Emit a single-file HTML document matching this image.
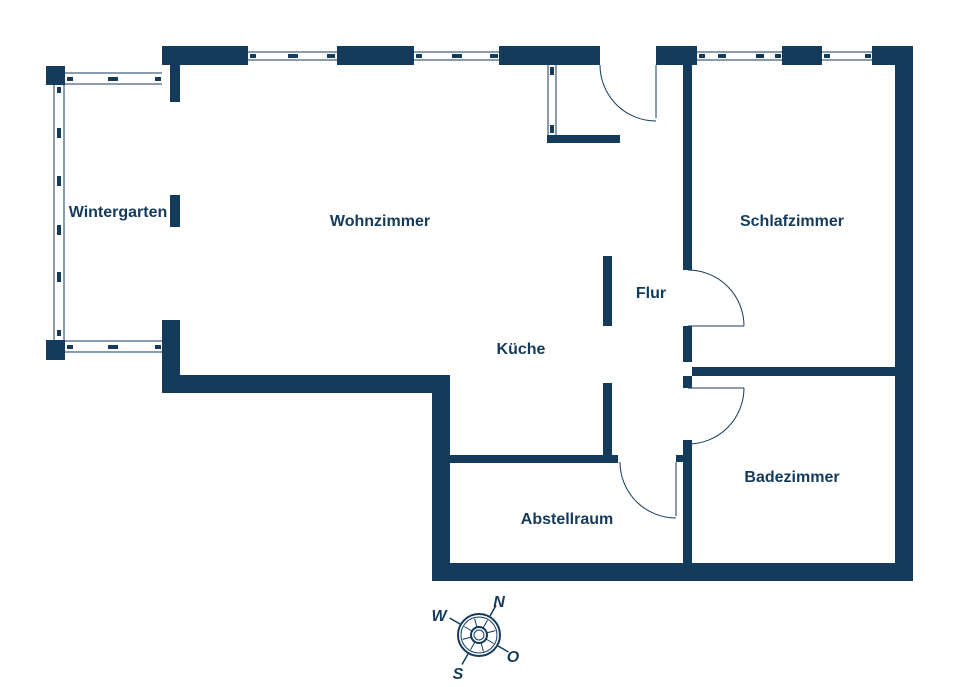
<!DOCTYPE html>
<html><head><meta charset="utf-8"><style>
body{margin:0;background:#fff}
svg{display:block}
text{font-family:"Liberation Sans",sans-serif;font-weight:bold;font-size:16px;fill:#143a5c;text-anchor:middle}
</style></head><body>
<svg width="960" height="687" viewBox="0 0 960 687" xmlns="http://www.w3.org/2000/svg">
<g fill="#143a5c">
<rect x="162" y="46" width="86" height="19"/>
<rect x="170" y="46" width="10" height="56"/>
<rect x="337" y="46" width="77" height="19"/>
<rect x="499" y="46" width="101" height="19"/>
<rect x="656" y="46" width="41" height="19"/>
<rect x="782" y="46" width="40" height="19"/>
<rect x="872" y="46" width="41" height="19"/>
<rect x="895" y="46" width="18" height="535"/>
<rect x="432" y="563" width="481" height="18"/>
<rect x="432" y="375" width="18" height="206"/>
<rect x="162" y="375" width="288" height="18"/>
<rect x="162" y="320" width="18" height="73"/>
<rect x="170" y="320" width="10" height="60"/>
<rect x="170" y="195" width="10" height="32"/>
<rect x="46" y="66" width="19" height="19"/>
<rect x="46" y="340" width="19" height="20"/>
<rect x="683" y="65" width="9" height="205"/>
<rect x="683" y="326" width="9" height="36"/>
<rect x="683" y="376" width="9" height="12"/>
<rect x="692" y="367" width="203" height="9"/>
<rect x="683" y="440" width="9" height="123"/>
<rect x="676" y="455" width="16" height="7"/>
<rect x="450" y="455" width="168" height="8"/>
<rect x="603" y="383" width="9" height="72"/>
<rect x="603" y="256" width="9" height="70"/>
<rect x="547" y="135" width="73" height="8"/>
</g>
<g stroke="#143a5c" stroke-width="1" fill="none">
<path d="M248 52H337M248 60H337M414 52H499M414 60H499M697 52H782M697 60H782M822 52H872M822 60H872"/>
<path d="M65 73H162M65 84H162M65 341H162M65 352H162M54 85V340M64 85V340"/>
<path d="M548 65V135M556 65V135"/>
<path d="M656 65V118M600 65A56 56 0 0 0 656 121"/>
<path d="M688 326H744M688 270A56 56 0 0 1 744 326"/>
<path d="M688 388H744M744 388A56 56 0 0 1 688 444"/>
<path d="M676 462V516M620 462A56 56 0 0 0 676 518"/>
</g>
<g fill="#143a5c">
<rect x="250" y="54" width="6" height="4"/><rect x="288" y="54" width="10" height="4"/><rect x="327" y="54" width="8" height="4"/>
<rect x="416" y="54" width="6" height="4"/><rect x="452" y="54" width="10" height="4"/><rect x="490" y="54" width="8" height="4"/>
<rect x="699" y="54" width="6" height="4"/><rect x="718" y="54" width="8" height="4"/><rect x="756" y="54" width="8" height="4"/><rect x="775" y="54" width="6" height="4"/>
<rect x="824" y="54" width="6" height="4"/><rect x="865" y="54" width="6" height="4"/>
<rect x="67" y="77" width="6" height="4"/><rect x="108" y="77" width="10" height="4"/><rect x="155" y="77" width="6" height="4"/>
<rect x="67" y="345" width="6" height="4"/><rect x="108" y="345" width="10" height="4"/><rect x="155" y="345" width="6" height="4"/>
<rect x="57" y="87" width="4" height="6"/><rect x="57" y="128" width="4" height="10"/><rect x="57" y="176" width="4" height="10"/><rect x="57" y="225" width="4" height="10"/><rect x="57" y="272" width="4" height="10"/><rect x="57" y="330" width="4" height="6"/>
<rect x="550" y="67" width="4" height="8"/><rect x="550" y="125" width="4" height="8"/>
</g>
<text x="118" y="217">Wintergarten</text>
<text x="380" y="226">Wohnzimmer</text>
<text x="792" y="226">Schlafzimmer</text>
<text x="651" y="298">Flur</text>
<text x="521" y="354">Küche</text>
<text x="792" y="482">Badezimmer</text>
<text x="567" y="524">Abstellraum</text>
<g transform="translate(479,635)" stroke="#143a5c" fill="none">
<g transform="rotate(30)" stroke-width="1.5">
<path d="M0 -22V-34M0 22V34M-22 0H-34M22 0H34"/>
<path d="M0 -7V-17M0 7V17M-7 0H-17M7 0H17M5 -5L12 -12M-5 -5L-12 -12M5 5L12 12M-5 5L-12 12" stroke-width="1"/>
</g>
<circle r="21" stroke-width="2"/><circle r="18" stroke-width="1"/><circle r="8" stroke-width="2"/><circle r="5" stroke-width="1"/>
</g>
<g style="font-size:14px;font-style:italic">
<text x="499" y="607">N</text>
<text x="439" y="621">W</text>
<text x="513" y="662">O</text>
<text x="458" y="679">S</text>
</g>
</svg>
</body></html>
